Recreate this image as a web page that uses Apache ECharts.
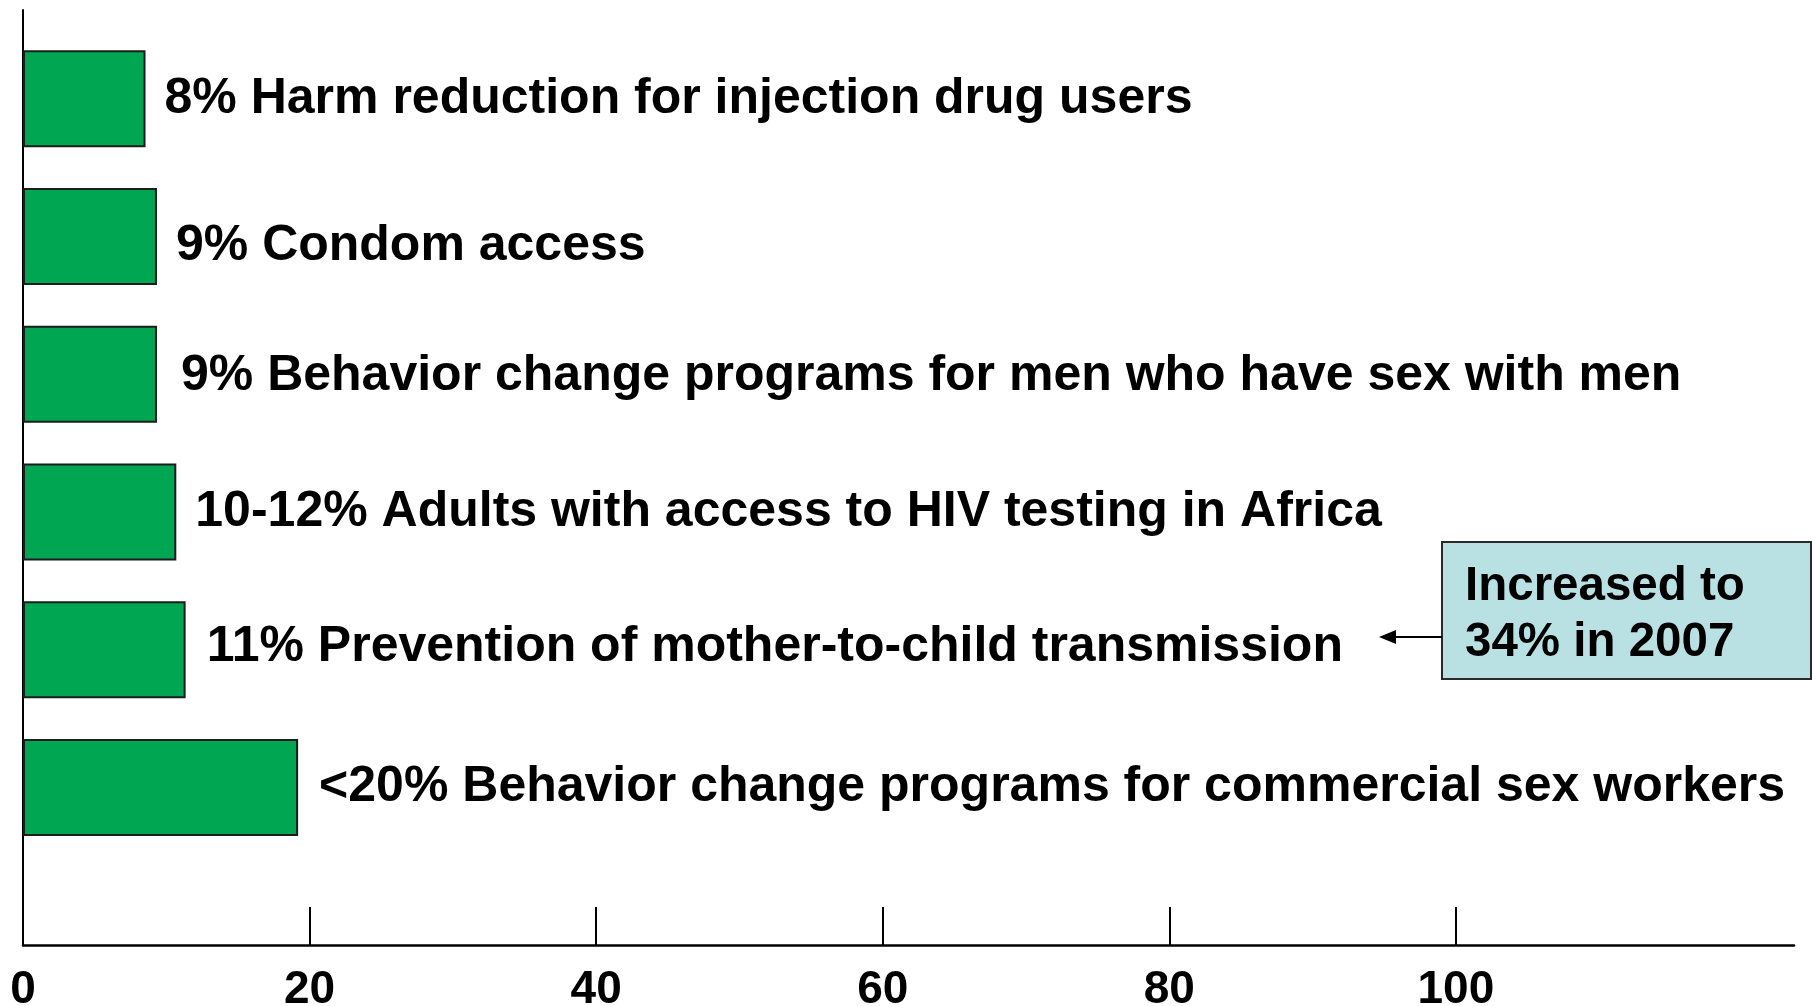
<!DOCTYPE html>
<html>
<head>
<meta charset="utf-8">
<script src="https://cdn.jsdelivr.net/npm/echarts@6/dist/echarts.min.js"></script>
<style>
  html, body { margin: 0; padding: 0; background: #ffffff; }
  #chart { width: 1812px; height: 1006px; }
</style>
</head>
<body>
<div id="chart"></div>
<script>
// ---- data ----
const categories = [
  '8% Harm reduction for injection drug users',
  '9% Condom access',
  '9% Behavior change programs for men who have sex with men',
  '10-12% Adults with access to HIV testing in Africa',
  '11% Prevention of mother-to-child transmission',
  '<20% Behavior change programs for commercial sex workers'
];
const values = [8.55, 9.35, 9.35, 10.7, 11.35, 19.2];
const xTicks = [0, 20, 40, 60, 80, 100];
const calloutText = 'Increased to\n34% in 2007';

// small per-label nudges (layout only)
const labelNudges = [[0, 0], [0, 10], [5, 2], [0, 0], [2, -3], [2, 0]];

// ---- font detection ----
function hasFont(name) {
  const c = document.createElement('canvas').getContext('2d');
  const s = 'Harm reduction 0123456789';
  c.font = 'bold 100px monospace';
  const a = c.measureText(s).width;
  c.font = 'bold 100px "' + name + '", monospace';
  const b = c.measureText(s).width;
  return Math.abs(a - b) > 1;
}
const narrow = hasFont('Liberation Sans Narrow');
const labelFamily = narrow ? '"Liberation Sans Narrow", "Liberation Sans", Arial, sans-serif' : '"Liberation Sans", Arial, sans-serif';
const labelSize = narrow ? 61 : 50;
const tickSize = narrow ? 54 : 46;
const boxFamily = '"Liberation Sans", Arial, sans-serif';

const chart = echarts.init(document.getElementById('chart'), null, { renderer: 'canvas' });

const barData = values.map((v, i) => ({
  value: v,
  label: { offset: labelNudges[i] }
}));

const option = {
  backgroundColor: '#ffffff',
  animation: false,
  grid: [
    { left: 23, right: 18, top: 29.9, bottom: 149.6, containLabel: false, outerBoundsMode: 'none' },
    { left: 23, right: 18, top: 10, bottom: 61, containLabel: false, outerBoundsMode: 'none' }
  ],
  xAxis: [
    { gridIndex: 0, type: 'value', min: 0, max: 123.6, show: false },
    {
      gridIndex: 1, type: 'value', min: 0, max: 123.6,
      axisLine: { show: true, lineStyle: { color: '#000', width: 2.5 } },
      axisTick: { show: true, inside: true, length: 38, customValues: xTicks, lineStyle: { color: '#000', width: 2 } },
      axisLabel: {
        show: true, customValues: xTicks, margin: 22,
        color: '#000', fontSize: tickSize, fontWeight: 'bold', fontFamily: labelFamily
      },
      splitLine: { show: false }
    }
  ],
  yAxis: [
    { gridIndex: 0, type: 'category', data: categories, inverse: true, show: false },
    {
      gridIndex: 1, type: 'value', min: 0, max: 1,
      axisLine: { show: true, lineStyle: { color: '#000', width: 2 } },
      axisTick: { show: false }, axisLabel: { show: false }, splitLine: { show: false }
    }
  ],
  series: [
    {
      type: 'bar',
      xAxisIndex: 0, yAxisIndex: 0,
      data: barData,
      barWidth: 97,
      itemStyle: { color: '#00a651', borderColor: '#1c1c1c', borderWidth: 2 },
      label: {
        show: true, position: 'right', distance: 19,
        formatter: (p) => categories[p.dataIndex],
        color: '#000', fontSize: labelSize, fontWeight: 'bold', fontFamily: labelFamily
      },
      silent: true
    }
  ],
  graphic: [
    {
      type: 'rect',
      shape: { x: 1442, y: 542, width: 369, height: 137 },
      style: { fill: '#b9e0e3', stroke: '#2a2a2a', lineWidth: 2 },
      z: 10
    },
    {
      type: 'text',
      x: 1465, y: 615,
      style: {
        text: calloutText, fill: '#000',
        fontSize: 47.5, fontWeight: 'bold', fontFamily: boxFamily,
        lineHeight: 56, verticalAlign: 'middle', align: 'left'
      },
      z: 11
    },
    {
      type: 'line',
      shape: { x1: 1442, y1: 637, x2: 1392, y2: 637 },
      style: { stroke: '#000', lineWidth: 2 },
      z: 10
    },
    {
      type: 'polygon',
      shape: { points: [[1379, 637], [1396, 630], [1396, 644]] },
      style: { fill: '#000' },
      z: 10
    }
  ]
};
chart.setOption(option);
</script>
</body>
</html>
